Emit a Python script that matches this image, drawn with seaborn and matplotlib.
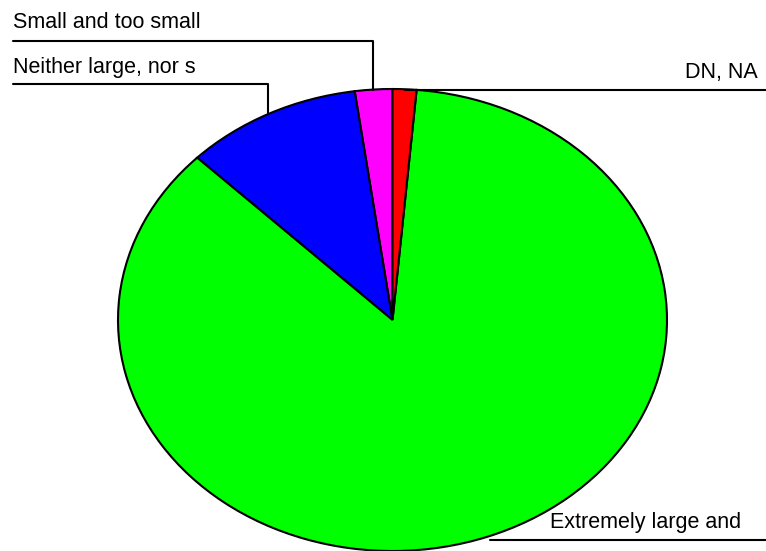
import matplotlib
matplotlib.use("Agg")
import matplotlib.pyplot as plt
from matplotlib.lines import Line2D
import seaborn as sns

# Survey answers (share of respondents, %)
categories = ["Small and too small", "Neither large, nor s", "Extremely large and", "DN, NA"]
shares = [2.2, 10.4, 86.0, 1.4]
colors = ["#ff00ff", "#0000ff", "#00ff00", "#ff0000"]

sns.set_theme(style="white")
plt.rcParams["font.family"] = ["Liberation Sans", "DejaVu Sans"]

W, H = 766, 551
fig = plt.figure(figsize=(W / 100, H / 100), dpi=100)
fig.patch.set_facecolor("white")

# Axes spanning the ellipse of the pie (pixel box -> figure fractions)
left, right, top, bottom = 118, 667, 89, 551
ax = fig.add_axes([left / W, 1 - bottom / H, (right - left) / W, (bottom - top) / H])
ax.pie(shares, colors=colors, startangle=90, counterclock=True, radius=1,
       wedgeprops=dict(edgecolor="black", linewidth=1.5))
ax.set_aspect("auto")
ax.set_xlim(-1.0, 1.0)
ax.set_ylim(-1.0, 1.0)
ax.set_axis_off()


def fx(x):
    return x / W


def fy(y):
    return 1 - y / H


fs = 15.5
# label text and leader lines
fig.text(fx(13), fy(28), categories[0], fontsize=fs, va="baseline", ha="left", color="black")
fig.lines.append(Line2D([fx(13), fx(373), fx(373)], [fy(40.5), fy(40.5), fy(90)],
                        transform=fig.transFigure, color="black", linewidth=1.5))

fig.text(fx(13), fy(73), categories[1], fontsize=fs, va="baseline", ha="left", color="black")
fig.lines.append(Line2D([fx(13), fx(268), fx(268)], [fy(84), fy(84), fy(113)],
                        transform=fig.transFigure, color="black", linewidth=1.5))

fig.text(fx(758), fy(78), categories[3], fontsize=fs, va="baseline", ha="right", color="black")
fig.lines.append(Line2D([fx(405), fx(766)], [fy(89.5), fy(89.5)],
                        transform=fig.transFigure, color="black", linewidth=1.5))

fig.text(fx(550), fy(528), categories[2], fontsize=fs, va="baseline", ha="left", color="black")
fig.lines.append(Line2D([fx(490), fx(766)], [fy(540), fy(540)],
                        transform=fig.transFigure, color="black", linewidth=1.5))

fig.savefig("out.png", dpi=100, facecolor="white")
